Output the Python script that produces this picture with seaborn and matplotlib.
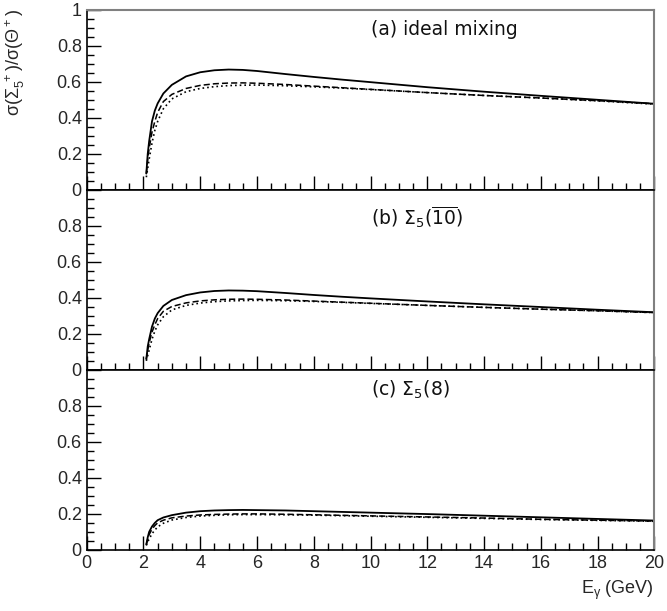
import numpy as np
import pandas as pd
import matplotlib
matplotlib.use("Agg")
import matplotlib.pyplot as plt
import seaborn as sns
from matplotlib.ticker import MultipleLocator

# photon energy grid (GeV)
E_GAMMA = [2.10, 2.15, 2.2, 2.3, 2.4, 2.5, 2.7, 3.0, 3.5, 4.0, 4.5, 5.0, 5.5,
           6.0, 7.0, 8.0, 9.0, 10.0, 12.0, 14.0, 16.0, 18.0, 20.0]

# (a) ideal mixing
A_SOLID = [0.09, 0.20, 0.27, 0.38, 0.44, 0.48, 0.535, 0.583, 0.630, 0.653, 0.664, 0.668,
           0.666, 0.660, 0.643, 0.627, 0.612, 0.598, 0.570, 0.545, 0.522, 0.500, 0.478]
A_DASHED = [0.09, 0.17, 0.23, 0.32, 0.38, 0.43, 0.49, 0.53, 0.563, 0.580, 0.589, 0.593,
            0.594, 0.592, 0.585, 0.576, 0.567, 0.558, 0.540, 0.524, 0.510, 0.495, 0.478]
A_DOTTED = [0.07, 0.12, 0.17, 0.26, 0.33, 0.38, 0.45, 0.505, 0.545, 0.563, 0.573, 0.579,
            0.581, 0.582, 0.578, 0.572, 0.565, 0.557, 0.540, 0.524, 0.510, 0.494, 0.476]

# (b) Sigma_5(10bar)
B_SOLID = [0.06, 0.13, 0.17, 0.24, 0.285, 0.315, 0.355, 0.388, 0.415, 0.430, 0.438, 0.441,
           0.440, 0.437, 0.427, 0.416, 0.406, 0.397, 0.380, 0.364, 0.349, 0.334, 0.320]
B_DASHED = [0.06, 0.11, 0.15, 0.21, 0.25, 0.285, 0.325, 0.352, 0.372, 0.383, 0.389, 0.392,
            0.393, 0.392, 0.388, 0.382, 0.376, 0.370, 0.358, 0.347, 0.337, 0.328, 0.318]
B_DOTTED = [0.05, 0.08, 0.11, 0.17, 0.215, 0.25, 0.295, 0.333, 0.358, 0.371, 0.379, 0.383,
            0.385, 0.386, 0.384, 0.380, 0.375, 0.369, 0.358, 0.347, 0.337, 0.328, 0.318]

# (c) Sigma_5(8)
C_SOLID = [0.03, 0.07, 0.10, 0.13, 0.15, 0.165, 0.18, 0.193, 0.207, 0.215, 0.219, 0.221,
           0.222, 0.221, 0.219, 0.215, 0.211, 0.207, 0.199, 0.190, 0.181, 0.172, 0.163]
C_DASHED = [0.03, 0.06, 0.085, 0.115, 0.135, 0.15, 0.165, 0.178, 0.188, 0.194, 0.197, 0.199,
            0.200, 0.200, 0.198, 0.195, 0.192, 0.189, 0.183, 0.177, 0.170, 0.165, 0.160]
C_DOTTED = [0.025, 0.045, 0.06, 0.09, 0.11, 0.128, 0.148, 0.166, 0.180, 0.188, 0.192, 0.195,
            0.196, 0.196, 0.195, 0.193, 0.190, 0.187, 0.181, 0.175, 0.169, 0.164, 0.159]

PANEL_LABELS = ["(a) ideal mixing",
                r"(b) $\Sigma_5(\overline{10})$",
                r"(c) $\Sigma_5(8)$"]
PANEL_LABEL_Y = [0.89, 0.85, 0.89]

Y_TICKS = [0, 0.2, 0.4, 0.6, 0.8, 1.0]
Y_TICK_LABELS = ["0", "0.2", "0.4", "0.6", "0.8", "1"]
X_TICKS = [0, 2, 4, 6, 8, 10, 12, 14, 16, 18, 20]


sns.set_style("ticks")
plt.rcParams["font.family"] = ["Liberation Sans", "DejaVu Sans"]
plt.rcParams["mathtext.default"] = "regular"

fig, axes = plt.subplots(3, 1, figsize=(6.67, 6.11), dpi=100, sharex=True,
                         gridspec_kw={"hspace": 0})
fig.subplots_adjust(left=0.130, right=0.981, bottom=0.100, top=0.984)

panels = [(A_SOLID, A_DASHED, A_DOTTED),
          (B_SOLID, B_DASHED, B_DOTTED),
          (C_SOLID, C_DASHED, C_DOTTED)]

for i, (ax, (solid, dashed, dotted)) in enumerate(zip(axes, panels)):
    df = pd.DataFrame({"E": E_GAMMA, "solid": solid, "dashed": dashed, "dotted": dotted})
    sns.lineplot(data=df, x="E", y="solid", ax=ax, color="black", lw=1.3)
    sns.lineplot(data=df, x="E", y="dashed", ax=ax, color="black", lw=1.1,
                 dashes=False, linestyle=(0, (4, 2)))
    sns.lineplot(data=df, x="E", y="dotted", ax=ax, color="black", lw=1.2,
                 dashes=False, linestyle=(0, (1, 1.8)))

    ax.set_xlim(0, 20)
    ax.set_ylim(0, 1)
    ax.set_xlabel("")
    ax.set_ylabel("")
    ax.set_xticks(X_TICKS)
    ax.xaxis.set_minor_locator(MultipleLocator(0.5))
    ax.set_yticks(Y_TICKS)
    labels = list(Y_TICK_LABELS)
    if i > 0:
        labels[-1] = ""
    ax.set_yticklabels(labels)
    ax.yaxis.set_minor_locator(MultipleLocator(0.05))
    ax.tick_params(axis="both", which="both", direction="in", top=False, right=False,
                   labelsize=13, color="black", width=1.0)
    ax.tick_params(axis="both", which="major", length=10)
    ax.tick_params(axis="both", which="minor", length=5)
    if i < 2:
        ax.tick_params(axis="x", labelbottom=False)

    for side in ["left", "bottom"]:
        ax.spines[side].set_color("black")
        ax.spines[side].set_linewidth(1.2)
    ax.spines["right"].set_color("#808080")
    ax.spines["right"].set_linewidth(1.5)
    ax.spines["top"].set_color("#808080" if i == 0 else "black")
    ax.spines["top"].set_linewidth(1.5 if i == 0 else 1.2)

    ax.text(10.0, PANEL_LABEL_Y[i], PANEL_LABELS[i], fontsize=13.5, va="center",
            ha="left", family="DejaVu Sans", color="#111111")

fig.text(0.022, 0.898, r"$\sigma(\Sigma_5^{\ +})/\sigma(\Theta^+)$", rotation=90,
         ha="center", va="center", fontsize=13)
fig.text(0.981, 0.034, r"E$_\gamma$ (GeV)", ha="right", va="center", fontsize=13)

fig.savefig("out.png", dpi=100)
